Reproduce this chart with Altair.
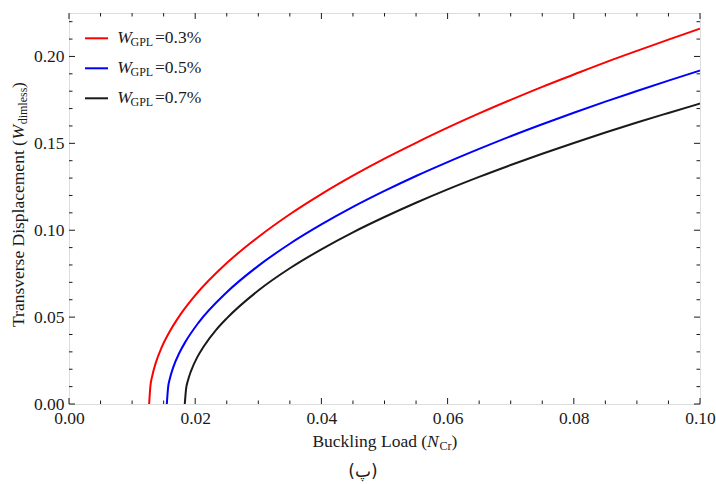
import altair as alt
import pandas as pd

# ---- data ----
series = ["0.3%", "0.5%", "0.7%"]
colors = ["#ff0000", "#0000ff", "#1a1a1a"]

red_x = [0.0127, 0.0129, 0.0132, 0.0137, 0.0147, 0.0157, 0.0177, 0.020, 0.025, 0.030, 0.035, 0.040,
         0.045, 0.050, 0.055, 0.060, 0.065, 0.070, 0.075, 0.080, 0.085, 0.090, 0.095, 0.100]
red_y = [0.0, 0.0103, 0.0163, 0.0231, 0.0327, 0.0400, 0.0517, 0.0625, 0.0811, 0.0961, 0.1092, 0.1208,
         0.1314, 0.1412, 0.1503, 0.1590, 0.1672, 0.1750, 0.1825, 0.1896, 0.1966, 0.2032, 0.2097, 0.2160]

blue_x = [0.0155, 0.0157, 0.0160, 0.0165, 0.0175, 0.0185, 0.0205, 0.025, 0.030, 0.035, 0.040, 0.045,
          0.050, 0.055, 0.060, 0.065, 0.070, 0.075, 0.080, 0.085, 0.090, 0.095, 0.100]
blue_y = [0.0, 0.0093, 0.0148, 0.0209, 0.0295, 0.0361, 0.0467, 0.0643, 0.0795, 0.0922, 0.1033, 0.1134,
          0.1226, 0.1312, 0.1392, 0.1468, 0.1541, 0.1610, 0.1676, 0.1740, 0.1801, 0.1861, 0.1919]

black_x = [0.01835, 0.01855, 0.01885, 0.01935, 0.02035, 0.02135, 0.02335, 0.025, 0.030, 0.035, 0.040,
           0.045, 0.050, 0.055, 0.060, 0.065, 0.070, 0.075, 0.080, 0.085, 0.090, 0.095, 0.100]
black_y = [0.0, 0.0086, 0.0135, 0.0191, 0.0271, 0.0331, 0.0428, 0.0493, 0.0653, 0.0781, 0.0890,
           0.0988, 0.1076, 0.1158, 0.1235, 0.1307, 0.1375, 0.1440, 0.1502, 0.1562, 0.1620, 0.1675, 0.1729]

x_major = [0.0, 0.02, 0.04, 0.06, 0.08, 0.10]
x_minor = [0.005, 0.01, 0.015, 0.025, 0.03, 0.035, 0.045, 0.05, 0.055,
           0.065, 0.07, 0.075, 0.085, 0.09, 0.095]
y_major = [0.0, 0.05, 0.10, 0.15, 0.20]
y_minor = [0.01, 0.02, 0.03, 0.04, 0.06, 0.07, 0.08, 0.09, 0.11, 0.12, 0.13, 0.14,
           0.16, 0.17, 0.18, 0.19, 0.21, 0.22]

# ---- build tables ----
rows = []
for name, xs_, ys_ in [(series[0], red_x, red_y), (series[1], blue_x, blue_y), (series[2], black_x, black_y)]:
    for i, (a, b) in enumerate(zip(xs_, ys_)):
        rows.append({"N": a, "W": b, "s": name, "i": i})
df = pd.DataFrame(rows)

W, H = 631, 391
FONT = "Liberation Serif"
FS = 17.5
SUB = 12
TXT = "#1a1a1a"
XD = [0, 0.1]
YD = [0, 0.225]
one = pd.DataFrame({"a": [0]})

xs = alt.Scale(domain=XD, nice=False, zero=False)
ys = alt.Scale(domain=YD, nice=False, zero=False)

axX = alt.Axis(values=x_major, format=".2f", title=None, grid=False, domain=False, ticks=False,
               labelFont=FONT, labelFontSize=FS, labelColor=TXT, labelPadding=5,
               labelFlush=False, labelOverlap=False)
axY = alt.Axis(values=y_major, format=".2f", title=None, grid=False, domain=False, ticks=False,
               labelFont=FONT, labelFontSize=FS, labelColor=TXT, labelPadding=5,
               labelFlush=False, labelOverlap=False)

lines = alt.Chart(df).mark_line(strokeWidth=2, interpolate="monotone", clip=True).encode(
    x=alt.X("N:Q", scale=xs, axis=axX),
    y=alt.Y("W:Q", scale=ys, axis=axY),
    color=alt.Color("s:N", scale=alt.Scale(domain=series, range=colors), legend=None),
    order="i:Q",
)

def xticks(vals, length):
    d = pd.DataFrame({"N": vals})
    bot = alt.Chart(d).mark_rule(color=TXT, strokeWidth=1).encode(
        x=alt.X("N:Q", scale=xs, axis=axX), y=alt.value(H), y2=alt.value(H - length))
    top = alt.Chart(d).mark_rule(color=TXT, strokeWidth=1).encode(
        x=alt.X("N:Q", scale=xs, axis=axX), y=alt.value(0), y2=alt.value(length))
    return [bot, top]

def yticks(vals, length):
    d = pd.DataFrame({"W": vals})
    left = alt.Chart(d).mark_rule(color=TXT, strokeWidth=1).encode(
        y=alt.Y("W:Q", scale=ys, axis=axY), x=alt.value(0), x2=alt.value(length))
    right = alt.Chart(d).mark_rule(color=TXT, strokeWidth=1).encode(
        y=alt.Y("W:Q", scale=ys, axis=axY), x=alt.value(W), x2=alt.value(W - length))
    return [left, right]

def txt(s, x, y, size=FS, italic=False, angle=0, align="left"):
    return alt.Chart(one).mark_text(
        text=s, font=FONT, fontSize=size, fontStyle="italic" if italic else "normal",
        align=align, baseline="alphabetic", angle=angle, color=TXT
    ).encode(x=alt.value(x), y=alt.value(y))

layers = [lines]
layers += xticks(x_major, 6) + xticks(x_minor, 3.5)
layers += yticks(y_major, 6) + yticks(y_minor, 3.5)

# legend
for k, (name, col) in enumerate(zip(series, colors)):
    yy = 25.3 + 30 * k
    layers.append(alt.Chart(one).mark_rule(color=col, strokeWidth=2).encode(
        x=alt.value(16), x2=alt.value(39), y=alt.value(yy)))
    layers.append(txt("W", 48.3, yy + 5, italic=True))
    layers.append(txt("GPL", 61.5, yy + 7.5, size=SUB))
    layers.append(txt("=" + name, 86, yy + 5))

# x title
layers.append(txt("Buckling Load (", 243.4, 433.5))
layers.append(txt("N", 358.1, 433.5, italic=True))
layers.append(txt("Cr", 370.5, 436.5, size=SUB))
layers.append(txt(")", 382.5, 433.5))

# y title (rotated)
layers.append(txt("Transverse Displacement (", -45, 314, angle=270))
layers.append(txt("W", -45, 126.4, italic=True, angle=270))
layers.append(txt("dimless", -42, 111.3, size=SUB, angle=270))
layers.append(txt(")", -45, 75.1, angle=270))

# caption
layers.append(alt.Chart(one).mark_text(text="(پ)", font="DejaVu Sans", fontSize=17, align="center",
                                       baseline="alphabetic", color=TXT).encode(
    x=alt.value(294), y=alt.value(464)))

chart = alt.layer(*layers).properties(
    width=W, height=H,
    autosize=alt.AutoSizeParams(type="none"),
    padding={"left": 69, "top": 13, "right": 16, "bottom": 80},
).configure_view(stroke=TXT, strokeWidth=1.2).configure(background="white")

chart.save("out.html", embed_options={"renderer": "svg", "actions": False})
